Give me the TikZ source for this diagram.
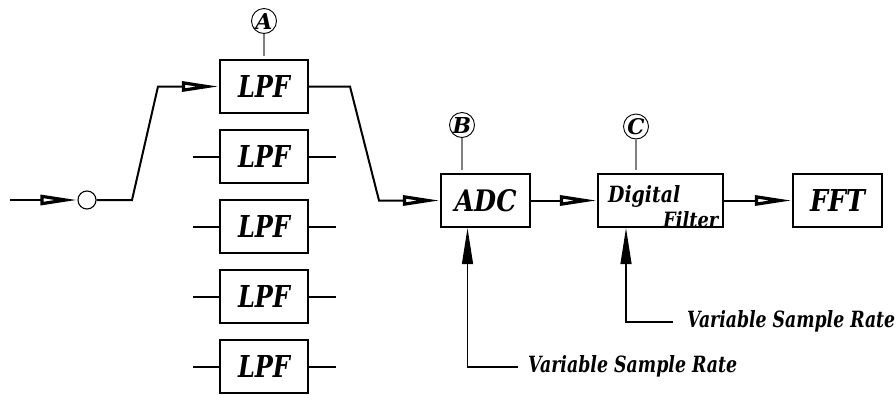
\documentclass[tikz,border=0pt]{standalone}
\usepackage{fontspec}
\setmainfont{DejaVu Serif}
\usetikzlibrary{arrows.meta}
\newcommand\fit[3]{\resizebox{#1pt}{#2pt}{\bfseries\itshape #3}}
\begin{document}
\begin{tikzpicture}[x=1pt,y=-1pt,
  box/.style={draw, line width=2.2pt, minimum height=53pt, inner sep=0pt},
  wire/.style={line width=2pt},
  oarrow/.style={wire, -{Triangle[open, length=37pt, width=10pt, line width=3.2pt]}},
  uparrow/.style={line width=1.2pt, -{Triangle[length=36pt, width=11pt]}},
  tag/.style={circle, draw, line width=0.9pt, minimum size=25pt, inner sep=0pt},
  tagline/.style={draw=gray, line width=1.1pt, shorten >=3pt},
  note/.style={inner sep=0pt},
  dtext/.style={inner sep=0pt}
]
\useasboundingbox (0,0) rectangle (896,394);

% input
\coordinate (in) at (10,200);
\node[circle, draw, line width=1.1pt, minimum size=18pt, inner sep=0pt] (c0) at (87,200) {};
\draw[oarrow] (in) -- (c0.west);

% LPF bank
\node[box, minimum width=88pt] (l1) at (264,86.5) {\fit{52}{22}{LPF}};
\node[box, minimum width=88pt] (l2) at (264,156.5) {\fit{52}{22}{LPF}};
\node[box, minimum width=88pt] (l3) at (264,226.5) {\fit{52}{22}{LPF}};
\node[box, minimum width=88pt] (l4) at (264,296.5) {\fit{52}{22}{LPF}};
\node[box, minimum width=88pt] (l5) at (264,366.5) {\fit{52}{22}{LPF}};

\foreach \n in {l2,l3,l4,l5}{
  \draw[wire] (\n.west) -- ++(-26,0);
  \draw[wire] (\n.east) -- ++(27,0);
}

\coordinate (k1) at (132,200);
\coordinate (k2) at (158,86.5);
\draw[oarrow] (c0.east) -- (k1) -- (k2) -- (l1.west);

% ADC, digital filter, FFT
\node[box, minimum width=89pt] (adc) at (485.5,200.5) {\fit{62}{22}{ADC}};
\node[box, minimum width=125pt] (df) at (660.5,200.5) {};
\node[dtext, anchor=base west] (dg) at (608,202) {\fit{72}{17}{Digital}};
\node[dtext, anchor=base west] (fl) at (663,227) {\fit{55}{16}{Filter}};
\node[box, minimum width=89pt] (fft) at (837.5,200.5) {\fit{55}{22}{FFT}};

\coordinate (k3) at (350,86.5);
\coordinate (k4) at (379,200.5);
\draw[oarrow] (l1.east) -- (k3) -- (k4) -- (adc.west);
\draw[oarrow] (adc.east) -- (df.west);
\draw[oarrow] (df.east) -- (fft.west);

% tags
\node[tag] (ta) at (264,21) {\resizebox{!}{16pt}{\bfseries\itshape A}};
\node[tag] (tb) at (462,125) {\resizebox{!}{16pt}{\bfseries\itshape B}};
\node[tag] (tc) at (636,126.5) {\resizebox{!}{16pt}{\bfseries\itshape C}};
\draw[tagline] (ta.south) -- (l1.north);
\draw[tagline] (tb.south) -- (tb.south |- adc.north);
\draw[tagline] (tc.south) -- (tc.south |- df.north);

% variable sample rate inputs
\coordinate (r1) at (518,367);
\coordinate (r2) at (673,322);
\node[note, anchor=base west] (n1) at (528,372) {\fit{209}{17}{Variable Sample Rate}};
\node[note, anchor=base west] (n2) at (687,327) {\fit{208}{17}{Variable Sample Rate}};
\draw[uparrow] (r1) -| ([xshift=-18pt]adc.south);
\draw[uparrow] (r2) -| ([xshift=-34.5pt]df.south);
\end{tikzpicture}
\end{document}
